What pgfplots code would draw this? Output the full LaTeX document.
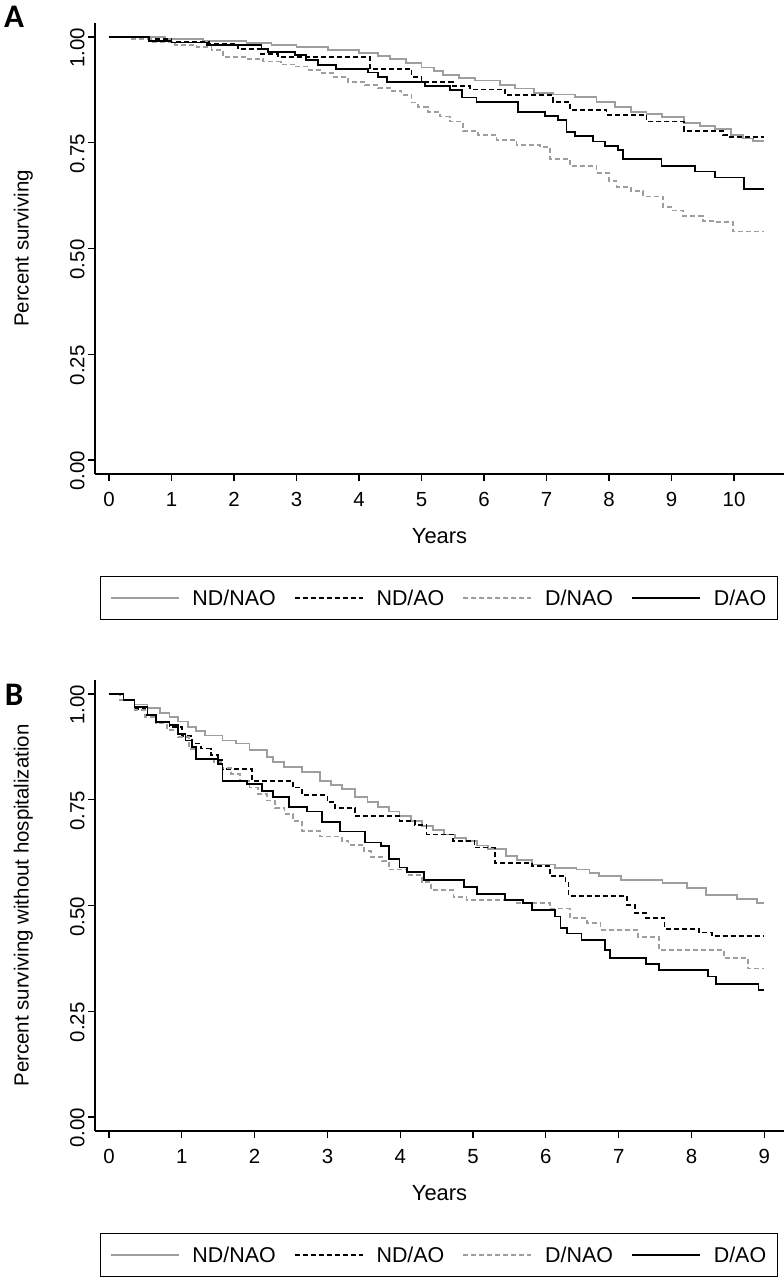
\documentclass[border=0pt]{standalone}
\usepackage{pgfplots}
\pgfplotsset{compat=1.18}
\usepackage{fontspec}
\setmainfont{Liberation Sans}
\newfontfamily\panelfont{Carlito}
\definecolor{kmgray}{HTML}{9E9E9E}

\pgfplotsset{
  kmaxis/.style={
    scale only axis, width=689bp, height=451bp,
    axis x line=bottom, axis y line=left,
    axis line style={-, line width=1.4bp},
    tick align=outside, major tick length=7bp,
    tick style={black, line width=1.2bp},
    ymin=-0.033, ymax=1.033,
    ytick={0,0.25,0.5,0.75,1},
    yticklabel={\pgfmathprintnumber[fixed,fixed zerofill,precision=2]{\tick}},
    y tick label style={rotate=90, anchor=south, xshift=-11bp},
    x tick label style={yshift=-8bp},
    /pgf/number format/assume math mode=true,
    ticklabel style={font=\fontsize{20.5}{24}\selectfont},
    xlabel={Years},
    every axis x label/.style={at={(axis description cs:0.5,-0.137)}, anchor=center,
      font=\fontsize{22}{26}\selectfont},
    every axis y label/.style={at={(axis description cs:-0.104,0.5)}, rotate=90, anchor=center,
      font=\fontsize{20.5}{24}\selectfont},
    legend columns=4,
    legend cell align=left,
    legend style={at={(axis description cs:0.0073,-0.226)}, anchor=north west,
      draw=black, line width=1.3bp, inner xsep=9bp, inner ysep=11bp,
      font=\fontsize{21.5}{25}\selectfont,
      /tikz/every odd column/.append style={column sep=11bp},
      /tikz/every even column/.append style={column sep=16bp}},
    legend image code/.code={\draw[#1] (0bp,0bp) -- (68bp,0bp);},
    const plot,
  },
  ndnao/.style={kmgray, line width=1.8bp, solid},
  ndao/.style={black, line width=1.8bp, dash pattern=on 5bp off 3bp},
  dnao/.style={kmgray, line width=1.8bp, dash pattern=on 5bp off 3bp},
  dao/.style={black, line width=1.8bp, solid},
}

\begin{document}
\begin{tikzpicture}
\path[use as bounding box] (0,0) rectangle (784bp,-1281bp);

% ---------------- panel A: overall survival ----------------
\begin{axis}[kmaxis, at={(95bp,-474bp)}, anchor=south west,
  xmin=-0.224, xmax=10.8, xtick={0,1,...,10},
  ylabel={Percent surviving}]
\addplot[ndnao] coordinates {
 (0,1.000) (0.9,0.995) (1.5,0.991) (2.2,0.985) (2.6,0.981) (3.0,0.976)
 (3.5,0.969) (4.0,0.962) (4.3,0.955) (4.5,0.948) (4.75,0.938) (5.0,0.928)
 (5.2,0.920) (5.35,0.910) (5.6,0.903) (5.85,0.897) (6.25,0.887) (6.5,0.878)
 (6.8,0.868) (7.1,0.864) (7.45,0.858) (7.8,0.847) (8.1,0.835) (8.35,0.823)
 (8.6,0.818) (8.85,0.811) (9.2,0.796) (9.45,0.790) (9.7,0.783) (9.95,0.768)
 (10.15,0.760) (10.3,0.754) (10.48,0.754)};
\addlegendentry{ND/NAO}
\addplot[ndao] coordinates {
 (0,1.000) (0.6,0.995) (1.0,0.988) (1.6,0.983) (2.06,0.971) (2.43,0.960)
 (2.7,0.952) (4.18,0.924) (4.84,0.906) (5.0,0.894) (5.5,0.885) (5.78,0.876)
 (6.34,0.863) (7.1,0.847) (7.38,0.827) (7.96,0.816) (8.6,0.800) (9.2,0.778)
 (9.83,0.768) (9.94,0.763) (10.48,0.763)};
\addlegendentry{ND/AO}
\addplot[dnao] coordinates {
 (0,1.000) (0.36,0.995) (0.7,0.988) (1.06,0.981) (1.4,0.976) (1.64,0.970)
 (1.83,0.953) (2.18,0.947) (2.46,0.942) (2.75,0.935) (2.98,0.930) (3.2,0.922)
 (3.4,0.914) (3.6,0.905) (3.82,0.894) (4.1,0.886) (4.31,0.879) (4.5,0.872)
 (4.68,0.863) (4.84,0.845) (4.95,0.835) (5.1,0.823) (5.3,0.812) (5.46,0.800)
 (5.67,0.778) (5.9,0.768) (6.2,0.757) (6.52,0.745) (6.9,0.739) (7.06,0.711)
 (7.38,0.695) (7.8,0.678) (8.0,0.660) (8.12,0.646) (8.35,0.635) (8.55,0.623)
 (8.87,0.599) (9.0,0.590) (9.19,0.577) (9.5,0.565) (9.72,0.563) (9.99,0.540)
 (10.48,0.540)};
\addlegendentry{D/NAO}
\addplot[dao] coordinates {
 (0,1.000) (0.64,0.991) (1.0,0.987) (1.57,0.981) (2.44,0.972) (2.55,0.965)
 (2.98,0.957) (3.15,0.946) (3.35,0.934) (3.63,0.924) (4.14,0.916) (4.3,0.906)
 (4.45,0.894) (5.06,0.885) (5.46,0.875) (5.65,0.857) (5.88,0.847) (6.55,0.823)
 (6.97,0.813) (7.19,0.804) (7.32,0.776) (7.46,0.766) (7.75,0.753) (7.94,0.742)
 (8.15,0.733) (8.23,0.711) (8.84,0.695) (9.38,0.682) (9.70,0.668) (10.16,0.640)
 (10.48,0.640)};
\addlegendentry{D/AO}
\end{axis}

% ---------------- panel B: survival without hospitalization ----------------
\begin{axis}[kmaxis, at={(95bp,-1131bp)}, anchor=south west,
  xmin=-0.192, xmax=9.27, xtick={0,1,...,9},
  ylabel={Percent surviving without hospitalization}]
\addplot[ndnao] coordinates {
 (0,1.000) (0.2,0.985) (0.35,0.975) (0.53,0.966) (0.7,0.955) (0.83,0.946)
 (0.95,0.935) (1.08,0.922) (1.2,0.912) (1.32,0.902) (1.56,0.890) (1.74,0.883)
 (1.93,0.867) (2.17,0.851) (2.25,0.840) (2.4,0.827) (2.65,0.815) (2.9,0.795)
 (3.05,0.785) (3.2,0.775) (3.38,0.756) (3.55,0.745) (3.69,0.732) (3.85,0.722)
 (3.99,0.712) (4.15,0.700) (4.30,0.688) (4.45,0.678) (4.6,0.668) (4.75,0.660)
 (4.9,0.652) (5.05,0.642) (5.21,0.633) (5.45,0.617) (5.6,0.608) (5.81,0.597)
 (6.12,0.589) (6.42,0.585) (6.6,0.577) (6.73,0.569) (7.03,0.560) (7.6,0.553)
 (7.94,0.541) (8.2,0.525) (8.62,0.515) (8.9,0.505) (9.0,0.505)};
\addlegendentry{ND/NAO}
\addplot[ndao] coordinates {
 (0,1.000) (0.2,0.985) (0.35,0.965) (0.5,0.950) (0.65,0.935) (0.83,0.922)
 (1.0,0.900) (1.14,0.883) (1.26,0.871) (1.4,0.855) (1.5,0.843) (1.56,0.823)
 (1.96,0.795) (2.53,0.779) (2.65,0.762) (3.0,0.745) (3.1,0.730) (3.38,0.712)
 (3.99,0.700) (4.2,0.690) (4.36,0.668) (4.72,0.652) (5.02,0.637) (5.30,0.601)
 (5.81,0.593) (6.06,0.569) (6.27,0.553) (6.31,0.522) (7.11,0.501) (7.22,0.482)
 (7.38,0.470) (7.63,0.445) (8.1,0.436) (8.28,0.427) (9.0,0.427)};
\addlegendentry{ND/AO}
\addplot[dnao] coordinates {
 (0,1.000) (0.15,0.985) (0.35,0.962) (0.5,0.945) (0.65,0.930) (0.8,0.915)
 (0.95,0.898) (1.1,0.870) (1.2,0.847) (1.44,0.839) (1.56,0.825) (1.68,0.811)
 (1.8,0.795) (1.93,0.779) (2.05,0.764) (2.17,0.748) (2.28,0.730) (2.41,0.716)
 (2.53,0.700) (2.65,0.676) (2.9,0.663) (3.2,0.652) (3.29,0.643) (3.5,0.629)
 (3.6,0.615) (3.75,0.605) (3.85,0.585) (4.1,0.572) (4.3,0.556) (4.42,0.537)
 (4.73,0.520) (4.91,0.513) (5.6,0.505) (6.06,0.493) (6.33,0.470) (6.56,0.458)
 (6.75,0.442) (7.27,0.426) (7.55,0.395) (8.45,0.375) (8.77,0.351) (9.0,0.351)};
\addlegendentry{D/NAO}
\addplot[dao] coordinates {
 (0,1.000) (0.2,0.985) (0.35,0.970) (0.53,0.950) (0.65,0.934) (0.83,0.926)
 (0.95,0.906) (1.05,0.890) (1.14,0.875) (1.2,0.847) (1.5,0.835) (1.56,0.795)
 (1.9,0.787) (2.1,0.771) (2.25,0.756) (2.47,0.733) (2.72,0.722) (2.93,0.698)
 (3.17,0.675) (3.52,0.649) (3.74,0.641) (3.85,0.610) (3.99,0.590) (4.09,0.580)
 (4.33,0.561) (4.87,0.544) (5.05,0.527) (5.44,0.513) (5.69,0.505) (5.81,0.489)
 (6.13,0.474) (6.20,0.446) (6.29,0.434) (6.49,0.418) (6.81,0.395) (6.88,0.375)
 (7.38,0.362) (7.55,0.348) (8.23,0.332) (8.34,0.314) (8.92,0.300) (9.0,0.300)};
\addlegendentry{D/AO}
\end{axis}

\node[font=\panelfont\bfseries\fontsize{33}{38}\selectfont] at (14bp,-17bp) {A};
\node[font=\panelfont\bfseries\fontsize{33}{38}\selectfont] at (14bp,-695bp) {B};
\end{tikzpicture}
\end{document}
